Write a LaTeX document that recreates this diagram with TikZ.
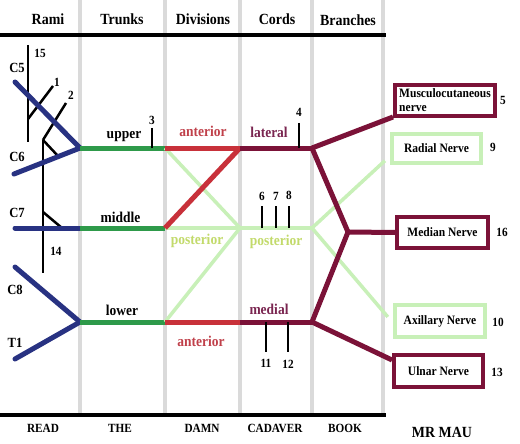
\documentclass[tikz,border=0pt]{standalone}
\usepackage{fontspec}
\setmainfont[FakeStretch=0.9]{Liberation Serif}
\usetikzlibrary{calc}
\definecolor{navy}{HTML}{283282}
\definecolor{trunkgreen}{HTML}{2E9A4A}
\definecolor{antred}{HTML}{C8313A}
\definecolor{anttext}{HTML}{C0404A}
\definecolor{postgreen}{HTML}{C8F0B8}
\definecolor{posttext}{HTML}{C2DA6A}
\definecolor{maroon}{HTML}{7B1238}
\definecolor{cordtext}{HTML}{7A2550}
\definecolor{colgray}{HTML}{DADADA}
\begin{document}
\begin{tikzpicture}[x=1pt,y=-1pt,
  every node/.style={inner sep=0pt},
  hdr/.style={font=\fontsize{15.5}{17}\selectfont\bfseries},
  ftr/.style={font=\fontsize{12.5}{14}\selectfont\bfseries},
  lbl/.style={font=\fontsize{15}{17}\selectfont\bfseries},
  num/.style={font=\fontsize{12.5}{14}\selectfont\bfseries},
  rlab/.style={font=\fontsize{14}{16}\selectfont\bfseries},
  boxtxt/.style={font=\fontsize{12.8}{14}\selectfont\bfseries},
  mbox/.style={draw=maroon, line width=4pt, boxtxt},
  gbox/.style={draw=postgreen, line width=4pt, boxtxt},
  colline/.style={draw=colgray, line width=4pt},
  rule/.style={draw=black, line width=4pt},
  ramus/.style={draw=navy, line width=5pt, line cap=round},
  trunk/.style={draw=trunkgreen, line width=5pt},
  ant/.style={draw=antred, line width=5pt},
  post/.style={draw=postgreen, line width=3.5pt},
  cord/.style={draw=maroon, line width=5pt},
  nerve/.style={draw=black, line width=2.5pt}
]
\useasboundingbox (0,0) rectangle (520,444);
\fill[white] (0,0) rectangle (520,444);

% column separators
\foreach \cx in {80,165,240,312,383} \draw[colline] (\cx,0) -- (\cx,415);
% top and bottom rules
\draw[rule] (0,35) -- (386,35);
\draw[rule] (0,415) -- (386,415);

% headers
\node[hdr] (hrami) at (48,19) {Rami};
\node[hdr] (htrunks) at (122,19) {Trunks};
\node[hdr] (hdiv) at (203,19) {Divisions};
\node[hdr] (hcords) at (277,19) {Cords};
\node[hdr] (hbranch) at (348,20) {Branches};
% footers
\node[ftr] (fread) at (43,428) {READ};
\node[ftr] (fthe) at (120,428) {THE};
\node[ftr] (fdamn) at (202,428) {DAMN};
\node[ftr] (fcad) at (275,428) {CADAVER};
\node[ftr] (fbook) at (345,428) {BOOK};
\node[font=\fontsize{15.5}{17}\selectfont\bfseries] (mrmau) at (442,432) {MR MAU};

% junction points
\coordinate (c5) at (15,82);
\coordinate (c6) at (14,174);
\coordinate (c7) at (15,228);
\coordinate (c8) at (15,267);
\coordinate (t1) at (15,359);
\coordinate (tu) at (80,148);
\coordinate (tm) at (80,228);
\coordinate (tl) at (80,322);
\coordinate (du) at (165,148);
\coordinate (dm) at (165,228);
\coordinate (dl) at (165,322);
\coordinate (cl) at (240,148);
\coordinate (cp) at (240,228);
\coordinate (cm) at (240,322);
\coordinate (bl) at (312,148);
\coordinate (bp) at (312,228);
\coordinate (bm) at (312,322);
\coordinate (mj) at (348,232);

% small black nerves of the rami
\coordinate (v1t) at (28,45);
\coordinate (v1b) at (28,142);
\coordinate (n1a) at (28,119);
\coordinate (n1b) at (53,86);
\coordinate (v2t) at (43,140);
\coordinate (v2b) at (43,273);
\coordinate (n2b) at (66,103);
\coordinate (n3b) at (58,156);
\coordinate (n4a) at (43,212);
\coordinate (n4b) at (62,228);
\draw[nerve] (v1t) -- (v1b);
\draw[nerve] (n1a) -- (n1b);
\draw[nerve] (v2t) -- (v2b);
\draw[nerve] (v2t) -- (n2b);
\draw[nerve] (v2t) -- (n3b);
\draw[nerve] (n4a) -- (n4b);

% rami
\draw[ramus] (c5) -- (tu);
\draw[ramus] (c6) -- (tu);
\draw[ramus] (c7) -- (tm);
\draw[ramus] (c8) -- (tl);
\draw[ramus] (t1) -- (tl);

% trunks
\draw[trunk] (tu) -- (du);
\draw[trunk] (tm) -- (dm);
\draw[trunk] (tl) -- (dl);

% boxes
\node[mbox, minimum width=100pt, minimum height=31pt, align=left] (musc) at (445,100.5) {Musculocutaneous\\nerve};
\node[gbox, minimum width=89pt, minimum height=29pt] (radial) at (436.5,148.5) {Radial Nerve};
\node[mbox, minimum width=91pt, minimum height=31pt] (median) at (442.5,232.5) {Median Nerve};
\node[gbox, minimum width=90pt, minimum height=32pt] (axil) at (440,321) {Axillary Nerve};
\node[mbox, minimum width=89pt, minimum height=32pt] (ulnar) at (438.5,371) {Ulnar Nerve};

% posterior divisions, cord and branches
\draw[post] (du) -- (cp);
\draw[post] (dm) -- (cp);
\draw[post] (dl) -- (cp);
\draw[post] (cp) -- (bp);
\draw[post, shorten >=7pt] (bp) -- ($(radial.south west)+(0,-9)$);
\draw[post, shorten >=8pt] (bp) -- ($(axil.west)+(0,2)$);

% anterior divisions
\draw[ant] (du) -- (cl);
\draw[ant] (dm) -- (cl);
\draw[ant] (dl) -- (cm);

% lateral and medial cords and branches
\draw[cord] (cl) -- (bl);
\draw[cord] (cm) -- (bm);
\draw[cord] (bl) -- ($(musc.south west)+(0,-1)$);
\draw[cord] (bl) -- (mj);
\draw[cord] (bm) -- (mj);
\draw[cord] (mj) -- (median.west);
\draw[cord] (bm) -- ($(ulnar.north west)+(0,7)$);

% tick nerves
\draw[nerve] (152,128) -- (152,148);
\draw[nerve] (299,123) -- (299,148);
\draw[nerve] (262,206) -- (262,228);
\draw[nerve] (276,206) -- (276,228);
\draw[nerve] (289,206) -- (289,228);
\draw[nerve] (266,322) -- (266,352);
\draw[nerve] (288,322) -- (288,352);

% labels
\node[lbl] (lupper) at (124,137) {upper};
\node[lbl] (lmiddle) at (120.5,217) {middle};
\node[lbl] (llower) at (122,310) {lower};
\node[lbl, text=anttext] (lant1) at (203,131) {anterior};
\node[lbl, text=anttext] (lant2) at (201,341) {anterior};
\node[lbl, text=posttext] (lpost1) at (197,241) {posterior};
\node[lbl, text=posttext] (lpost2) at (276,242) {posterior};
\node[lbl, text=cordtext] (llat) at (269,132) {lateral};
\node[lbl, text=cordtext] (lmed) at (269,309) {medial};

\node[rlab] (lc5) at (17,68) {C5};
\node[rlab] (lc6) at (17,157) {C6};
\node[rlab] (lc7) at (17,213) {C7};
\node[rlab] (lc8) at (15,290) {C8};
\node[rlab] (lt1) at (15,343) {T1};

\node[num] (n15) at (40,53) {15};
\node[num] (n1) at (57,82) {1};
\node[num] (n2) at (71,95) {2};
\node[num] (n14) at (56,251) {14};
\node[num] (n3) at (152,120) {3};
\node[num] (n4) at (299,112) {4};
\node[num] (n6) at (262,196) {6};
\node[num] (n7) at (276,196) {7};
\node[num] (n8) at (289,195) {8};
\node[num] (n11) at (266,363) {11};
\node[num] (n12) at (288,364) {12};
\node[num] (n5) at (503,100) {5};
\node[num] (n9) at (493,147) {9};
\node[num] (n16) at (502,232) {16};
\node[num] (n10) at (498,322) {10};
\node[num] (n13) at (497,372) {13};
\end{tikzpicture}
\end{document}
